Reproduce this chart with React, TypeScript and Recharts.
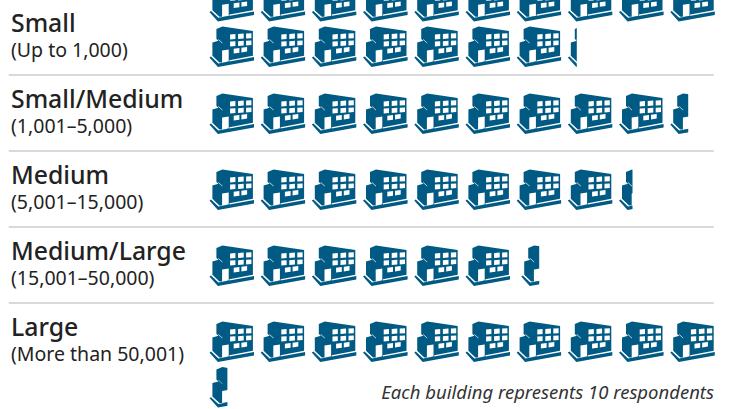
import { ScatterChart, Scatter, XAxis, YAxis, ReferenceLine } from "recharts";

const categories = ["Small", "Small/Medium", "Medium", "Medium/Large", "Large"];
const ranges = [
  "(Up to 1,000)",
  "(1,001–5,000)",
  "(5,001–15,000)",
  "(15,001–50,000)",
  "(More than 50,001)",
];
const respondents = [172, 94, 83, 64, 104];

const perIcon = 10;
const perRow = 10;
const lineStep = 0.6; // second row of icons inside a section
const sectionStart = [-0.482, 1, 2, 3, 4]; // small wraps upward, gets cropped at the top
const partNudge = [0, 0, 0, 0.09, 0]; // medium/large stub sits a bit right in the original

const iconColor = "#005a84";
const textColor = "#222222";
const font = "'Noto Sans', sans-serif";

const icons = respondents.flatMap((count, c) => {
  const units = count / perIcon;
  const list = [];
  for (let i = 0; i < Math.ceil(units); i++) {
    const part = Math.min(1, units - i);
    list.push({
      id: `${c}-${i}`,
      col: (i % perRow) + (part < 1 ? partNudge[c] : 0),
      line: sectionStart[c] + Math.floor(i / perRow) * lineStep,
      part,
    });
  }
  return list;
});

const buildingPath =
  "M7,3 L13,0.5 L43.5,5 L43.5,29.8 L20,34.2 L20,36.4 L10,36.4 L3,29.8 L3,16.5 L9,14.8 L7,13 Z " +
  "M8.6,12.8 L13,16.8 L13,17.5 L9.2,14 Z " +
  "M12.7,24.4 L19.3,23.4 L19.3,35.6 L12.7,36.4 Z " +
  "M20.7,8.4 L26,8 L26,13 L20.7,13.4 Z M28.7,8 L34.3,7.6 L34.3,12.6 L28.7,13 Z M36.7,7.6 L42,7.2 L42,12.2 L36.7,12.6 Z " +
  "M20.7,15.6 L26,15.2 L26,20 L20.7,20.4 Z M28.7,15.2 L34.3,14.8 L34.3,19.6 L28.7,20 Z M36.7,14.8 L42,14.4 L42,19 L36.7,19.4 Z " +
  "M24.3,22.8 L30,22 L30,26.8 L24.3,27.6 Z M32,21.8 L37.7,21 L37.7,25.6 L32,26.4 Z";
const basePath = "M0,31.5 L1.6,30.6 L9,37.4 L44.6,31 L44.6,34.6 L8.5,41 Z";

const Building = (props: any) => {
  const { cx, cy, payload } = props;
  const clipId = `part-${payload.id}`;
  return (
    <g transform={`translate(${cx - 0.6},${cy})`}>
      <clipPath id={clipId}>
        <rect x={0} y={-1} width={45 * payload.part} height={44} />
      </clipPath>
      <g clipPath={`url(#${clipId})`} fill={iconColor}>
        <path d={buildingPath} fillRule="evenodd" />
        <path d={basePath} />
      </g>
    </g>
  );
};

const SectionLabel = (props: any) => {
  const { x, y, payload } = props;
  return (
    <g fontFamily={font} textAnchor="start">
      <text x={x} y={y + 15} fontSize={24.8} fontWeight={500} fill={textColor}>
        {categories[payload.value]}
      </text>
      <text x={x} y={y + 40} fontSize={19.5} fill={textColor}>
        {ranges[payload.value]}
      </text>
    </g>
  );
};

export default function App() {
  return (
    <div style={{ position: "absolute", left: 0, top: 0, width: 732, height: 409 }}>
      <ScatterChart
        width={732}
        height={409}
        margin={{ top: 0, right: 10, bottom: 0, left: 0 }}
      >
        <XAxis type="number" dataKey="col" domain={[0, 10]} hide />
        <YAxis
          type="number"
          dataKey="line"
          reversed
          allowDataOverflow
          domain={[-0.224, 5.158]}
          ticks={[0, 1, 2, 3, 4]}
          interval={0}
          width={210}
          axisLine={false}
          tickLine={false}
          tick={(p: any) => <SectionLabel {...p} x={11} />}
        />
        {[1, 2, 3, 4].map((s) => (
          <ReferenceLine
            key={s}
            ifOverflow="visible"
            segment={[
              { x: -3.93, y: s - 0.237 },
              { x: 9.84, y: s - 0.237 },
            ]}
            stroke="#cccccc"
            strokeWidth={1.5}
          />
        ))}
        <Scatter
          data={icons}
          isAnimationActive={false}
          shape={(p: any) => <Building {...p} />}
        />
        <text
          x={714}
          y={399}
          textAnchor="end"
          fontFamily={font}
          fontStyle="italic"
          fontSize={18.5}
          fill="#333333"
        >
          Each building represents 10 respondents
        </text>
      </ScatterChart>
    </div>
  );
}
